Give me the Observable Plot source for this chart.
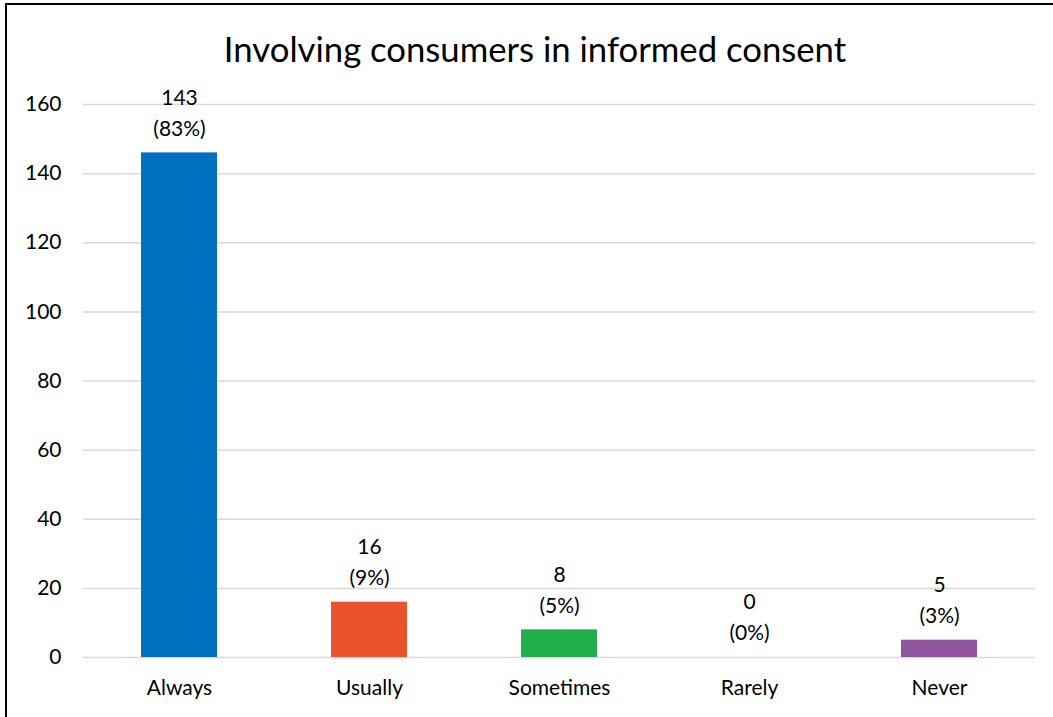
<!DOCTYPE html>
<html>
<head>
<meta charset="utf-8">
<script src="https://cdn.jsdelivr.net/npm/d3@7"></script>
<script src="https://cdn.jsdelivr.net/npm/@observablehq/plot@0.6"></script>
<style>
  html, body { margin: 0; padding: 0; background: #fff; overflow: hidden; }
  #wrap { position: relative; width: 1053px; height: 717px; overflow: hidden; font-family: Lato, "Open Sans", sans-serif; }
  #frame { position: absolute; left: 5px; top: 3px; width: 1100px; height: 800px; border: 2px solid #000; box-sizing: border-box; }
  #title { position: absolute; left: 0; width: 1070px; top: 27px; text-align: center; font-size: 34.7px; line-height: 44px; color: #000; }
  #chart { position: absolute; left: 0; top: 0; }
</style>
</head>
<body>
<div id="wrap">
  <div id="frame"></div>
  <div id="chart"></div>
  <div id="title">Involving consumers in informed consent</div>
</div>
<script>
const categories = ["Always", "Usually", "Sometimes", "Rarely", "Never"];
const barHeights = [146, 16, 8, 0, 5];
const counts = [143, 16, 8, 0, 5];
const percents = ["83%", "9%", "5%", "0%", "3%"];
const colors = ["#0070C0", "#EA532C", "#22AE4B", "#A5A5A5", "#8F54A0"];
const yTicks = [0, 20, 40, 60, 80, 100, 120, 140, 160];

const data = categories.map((c, i) => ({
  cat: c, h: barHeights[i], count: String(counts[i]), pct: "(" + percents[i] + ")", color: colors[i]
}));

const FS = 21;
const chart = Plot.plot({
  width: 1053,
  height: 717,
  marginLeft: 83,
  marginRight: 18,
  marginTop: 104,
  marginBottom: 60,
  style: { fontFamily: "Lato, 'Open Sans', sans-serif", fontSize: FS + "px", color: "#000", background: "transparent" },
  x: { domain: categories, paddingInner: 0.6, paddingOuter: 0.3, label: null },
  y: { domain: [0, 160], label: null },
  marks: [
    Plot.ruleY(yTicks, { stroke: "#d9d9d9", strokeWidth: 1.5 }),
    Plot.axisY({ ticks: yTicks, tickSize: 0, tickPadding: 22, label: null, fontSize: FS, color: "#000" }),
    Plot.axisX({ tickSize: 0, tickPadding: 23, label: null, fontSize: FS }),
    Plot.barY(data, { x: "cat", y: "h", fill: "color" }),
    Plot.text(data, { x: "cat", y: "h", text: "count", dy: -55, fontSize: FS, fill: "#000" }),
    Plot.text(data, { x: "cat", y: "h", text: "pct", dy: -24, fontSize: FS, fill: "#000" })
  ]
});
document.getElementById("chart").appendChild(chart);
</script>
</body>
</html>
